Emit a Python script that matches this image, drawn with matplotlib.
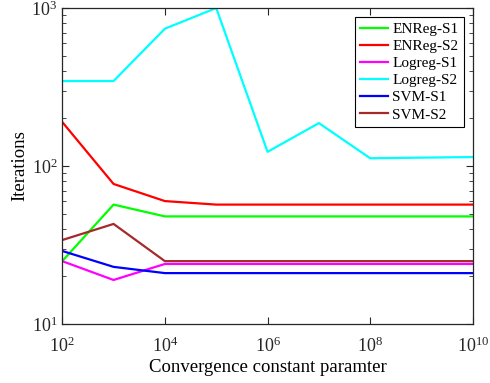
import matplotlib
matplotlib.use("Agg")
import matplotlib.pyplot as plt
from matplotlib.ticker import FixedLocator, NullLocator, LogFormatterSciNotation

plt.rcParams["font.family"] = ["Liberation Serif", "DejaVu Serif"]
plt.rcParams["mathtext.fontset"] = "custom"
plt.rcParams["mathtext.rm"] = "Liberation Serif"

# convergence constant values
x_vals = [1e2, 1e3, 1e4, 1e5, 1e6, 1e7, 1e8, 1e9, 1e10]
x_ticks = [1e2, 1e4, 1e6, 1e8, 1e10]

enreg_s1 = [25, 57, 48, 48, 48, 48, 48, 48, 48]
enreg_s2 = [190, 77, 60, 57, 57, 57, 57, 57, 57]
logreg_s1 = [25, 19, 24, 24, 24, 24, 24, 24, 24]
logreg_s2 = [345, 345, 740, 1000, 123, 187, 112, 113, 114]
svm_s1 = [29, 23, 21, 21, 21, 21, 21, 21, 21]
svm_s2 = [34, 43, 25, 25, 25, 25, 25, 25, 25]

series = [
    ("ENReg-S1", enreg_s1, "#00ff00"),
    ("ENReg-S2", enreg_s2, "#ff0000"),
    ("Logreg-S1", logreg_s1, "#ff00ff"),
    ("Logreg-S2", logreg_s2, "#00ffff"),
    ("SVM-S1", svm_s1, "#0000ff"),
    ("SVM-S2", svm_s2, "#a52a2a"),
]

fig = plt.figure(figsize=(4.9, 3.83), dpi=100)
ax = fig.add_axes([0.127, 0.154, 0.838, 0.825])

for name, vals, col in series:
    ax.plot(x_vals, vals, color=col, linewidth=1.6, label=name)

ax.set_xscale("log")
ax.set_yscale("log")
ax.set_xlim(1e2, 1e10)
ax.set_ylim(10, 1000)

ax.xaxis.set_major_locator(FixedLocator(x_ticks))
ax.xaxis.set_major_formatter(LogFormatterSciNotation())
ax.xaxis.set_minor_locator(NullLocator())

axis_col = "#262626"
for sp in ax.spines.values():
    sp.set_color(axis_col)
    sp.set_linewidth(0.9)
ax.tick_params(which="both", direction="in", top=True, right=True,
               colors=axis_col, labelsize=13)
ax.tick_params(which="major", length=5)
ax.tick_params(which="minor", length=3)
ax.tick_params(axis="x", pad=9)

ax.set_xlabel("Convergence constant paramter", fontsize=13.5, labelpad=2)
ax.set_ylabel("Iterations", fontsize=13.5, labelpad=2)

leg = ax.legend(loc="upper right", fontsize=11, frameon=True, fancybox=False,
                framealpha=1, edgecolor="black", handlelength=1.8,
                borderpad=0.35, labelspacing=0.22, handletextpad=0.3,
                borderaxespad=0.6)
leg.get_frame().set_linewidth(0.8)

fig.savefig("out.png", dpi=100)
